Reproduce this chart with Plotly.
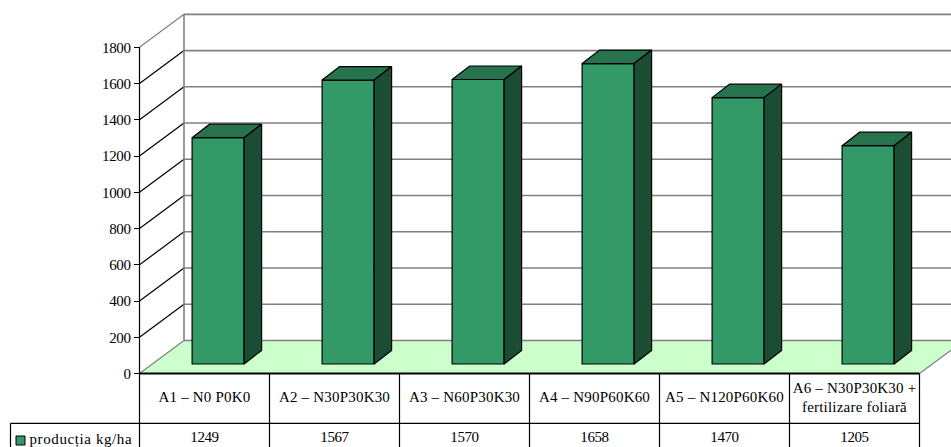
import plotly.graph_objects as go

categories = ["A1 – N0 P0K0", "A2 – N30P30K30", "A3 – N60P30K30", "A4 – N90P60K60",
              "A5 – N120P60K60", "A6 – N30P30K30 +<br>fertilizare foliară"]
values = [1249, 1567, 1570, 1658, 1470, 1205]
series_name = "producția kg/ha"
y_ticks = [0, 200, 400, 600, 800, 1000, 1200, 1400, 1600, 1800]

FRONT = "#339966"
TOP = "#26734D"
SIDE = "#1A4D33"
FLOOR = "#CCFFCC"
WALL = "#808080"
INK = "#000000"
FONT = "Liberation Serif"

W, H = 951, 447
X0_PX, Y0_PX = 139.5, 373.5      # chart origin on the page
COL_PX = 130.0                   # width of one category column
UNIT_PX = 36.24 / 200            # pixels per kg/ha


def dx(px):
    return px / COL_PX


def dy(px):
    return px / UNIT_PX


def page_x(px):
    return (px - X0_PX) / COL_PX


def page_y(px):
    return (Y0_PX - px) / UNIT_PX


# Oblique projection: wall depth and the setback of the bars from the front edge
WALL_DX, WALL_DY = dx(44.5), dy(33)
SET_DX, SET_DY = dx(13.6), dy(9.5)
BAR_W = dx(52)
BAR_DX, BAR_DY = dx(17.5), dy(13.5)

n = len(categories)
x_end = n + WALL_DX
y_top = y_ticks[-1]

fig = go.Figure()
shapes = []


def line(x0, y0, x1, y1, color, width, layer="below"):
    shapes.append(dict(type="line", xref="x", yref="y", x0=x0, y0=y0, x1=x1, y1=y1,
                       line=dict(color=color, width=width), layer=layer))


# Floor
shapes.append(dict(type="path", xref="x", yref="y", layer="below",
                   path=f"M 0 0 L {WALL_DX} {WALL_DY} L {x_end} {WALL_DY} L {n} 0 Z",
                   fillcolor=FLOOR, line=dict(width=0)))
# Back wall and side wall gridlines
for t in y_ticks:
    line(WALL_DX, t + WALL_DY, x_end, t + WALL_DY, WALL, 1.6)
    edge = WALL if t in (y_ticks[0], y_ticks[-1]) else INK
    line(0, t, WALL_DX, t + WALL_DY, edge, 1.2)
line(WALL_DX, WALL_DY, WALL_DX, y_top + WALL_DY, WALL, 1.6)
line(n, 0, x_end, WALL_DY, WALL, 1.2)
# Value axis
line(0, 0, 0, y_top, INK, 1.2)

# Front faces of the bars
bar_x = [i + 0.5 + SET_DX for i in range(n)]
fig.add_trace(go.Bar(x=bar_x, y=values, base=SET_DY, width=BAR_W, name=series_name,
                     marker=dict(color=FRONT, line=dict(color=INK, width=1.2)),
                     showlegend=False, hoverinfo="skip"))

# Top and side faces of the bars
for cx, v in zip(bar_x, values):
    left, right = cx - BAR_W / 2, cx + BAR_W / 2
    top = v + SET_DY
    fig.add_trace(go.Scatter(
        x=[left, right, right + BAR_DX, left + BAR_DX, left],
        y=[top, top, top + BAR_DY, top + BAR_DY, top],
        mode="lines", fill="toself", fillcolor=TOP,
        line=dict(color=INK, width=1.2), showlegend=False, hoverinfo="skip"))
    fig.add_trace(go.Scatter(
        x=[right, right + BAR_DX, right + BAR_DX, right, right],
        y=[SET_DY, SET_DY + BAR_DY, top + BAR_DY, top, SET_DY],
        mode="lines", fill="toself", fillcolor=SIDE,
        line=dict(color=INK, width=1.2), showlegend=False, hoverinfo="skip"))

# Data table under the chart
row_y = page_y(423.3)
page_bottom = page_y(H + 2)
legend_left = page_x(10.5)
line(0, 0, n, 0, INK, 2, "above")
line(legend_left, row_y, n, row_y, INK, 1.2, "above")
line(legend_left, row_y, legend_left, page_bottom, INK, 1.2, "above")
for i in range(n + 1):
    line(i, 0, i, page_bottom, INK, 1.2, "above")

centers = [i + 0.5 for i in range(n)]
fig.add_trace(go.Scatter(x=centers, y=[page_y(398.5)] * n, text=categories, mode="text",
                         textposition="middle center",
                         textfont=dict(family=FONT, size=15, color=INK),
                         showlegend=False, hoverinfo="skip"))
fig.add_trace(go.Scatter(x=centers, y=[page_y(438.5)] * n, text=[str(v) for v in values],
                         mode="text", textposition="middle center",
                         textfont=dict(family=FONT, size=15, color=INK),
                         showlegend=False, hoverinfo="skip"))

# Series key in the first table column
fig.add_trace(go.Scatter(x=[page_x(20.5)], y=[page_y(440.5)], mode="markers",
                         marker=dict(symbol="square", size=9, color=FRONT,
                                     line=dict(color=INK, width=1)),
                         showlegend=False, hoverinfo="skip"))
fig.add_annotation(xref="x", yref="y", x=page_x(32), y=page_y(439.5), text=series_name,
                   xanchor="left", yanchor="middle", showarrow=False,
                   font=dict(family=FONT, size=15, color=INK))

fig.update_layout(
    width=W, height=H, margin=dict(l=0, r=0, t=0, b=0),
    plot_bgcolor="white", paper_bgcolor="white", shapes=shapes, showlegend=False,
    font=dict(family=FONT, color=INK),
    xaxis=dict(range=[page_x(0), page_x(W)], visible=False, fixedrange=True),
    yaxis=dict(range=[page_y(H), page_y(0)], anchor="free", position=X0_PX / W,
               tickmode="array", tickvals=y_ticks, ticks="outside", ticklen=6,
               tickwidth=1.2, tickcolor=INK, showgrid=False, zeroline=False, showline=False,
               tickfont=dict(family=FONT, size=15, color=INK), fixedrange=True),
)

# Plotly fonts have no tracking option, so label tracking is set through CSS
spacing = """
document.querySelectorAll('.annotation-text').forEach(function (el) {
  el.style.letterSpacing = '0.6px';
});
document.querySelectorAll('.textpoint text, .ytick text').forEach(function (el) {
  el.style.letterSpacing = /^\\d+$/.test(el.textContent) ? '-0.4px' : '0.2px';
});
"""
fig.write_html("out.html", post_script=spacing, config={"displayModeBar": False})
